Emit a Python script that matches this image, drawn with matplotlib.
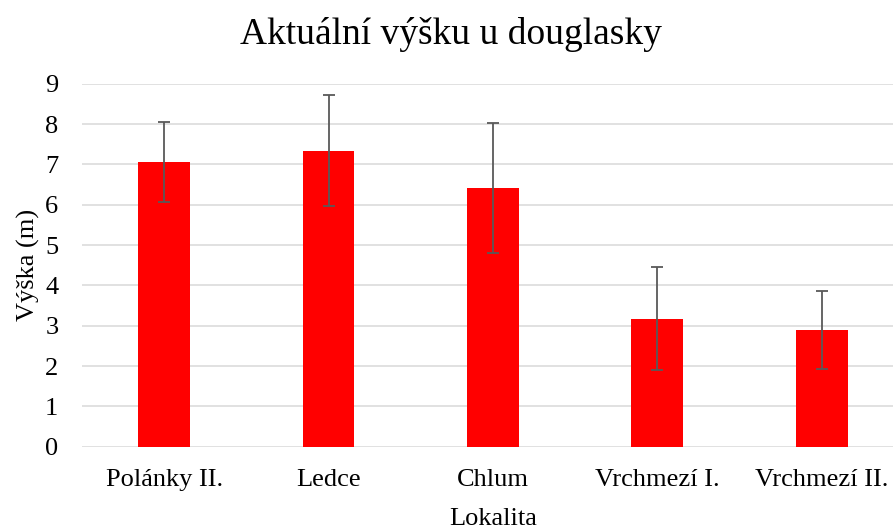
import numpy as np
import matplotlib.pyplot as plt

# data
lokality = ['Polánky II.', 'Ledce', 'Chlum', 'Vrchmezí I.', 'Vrchmezí II.']
vyska = [7.07, 7.34, 6.42, 3.18, 2.89]
chyba = [0.99, 1.38, 1.61, 1.27, 0.97]

plt.rcParams['font.family'] = ['Liberation Serif', 'DejaVu Serif']

fig = plt.figure(figsize=(8.93, 5.30), dpi=100)
ax = fig.add_axes([0.0918, 0.157, 0.9205, 0.685])

x = np.arange(len(lokality))
ax.bar(x, vyska, width=0.315, color='#ff0000', zorder=2)
ax.errorbar(x, vyska, yerr=chyba, fmt='none', ecolor='#595959',
            elinewidth=1.3, capsize=4.5, capthick=1.3, zorder=3)

ax.set_xlim(-0.5, len(lokality) - 0.5)
ax.set_ylim(0, 9)
ax.set_yticks(range(0, 10))
ax.set_xticks(x)
ax.set_xticklabels(lokality)
ax.tick_params(axis='both', length=0, labelsize=19, colors='#000000')
ax.tick_params(axis='x', pad=16)
ax.tick_params(axis='y', pad=17)

ax.yaxis.grid(True, color='#d9d9d9', linewidth=1.1, zorder=0)
ax.set_axisbelow(True)
for s in ax.spines.values():
    s.set_visible(False)

ax.set_ylabel('Výška (m)', fontsize=19, labelpad=4)
ax.set_xlabel('Lokalita', fontsize=19, labelpad=12)
fig.text(0.505, 0.935, 'Aktuální výšku u douglasky', fontsize=27,
         ha='center', va='center')

fig.savefig('out.png', dpi=100)
